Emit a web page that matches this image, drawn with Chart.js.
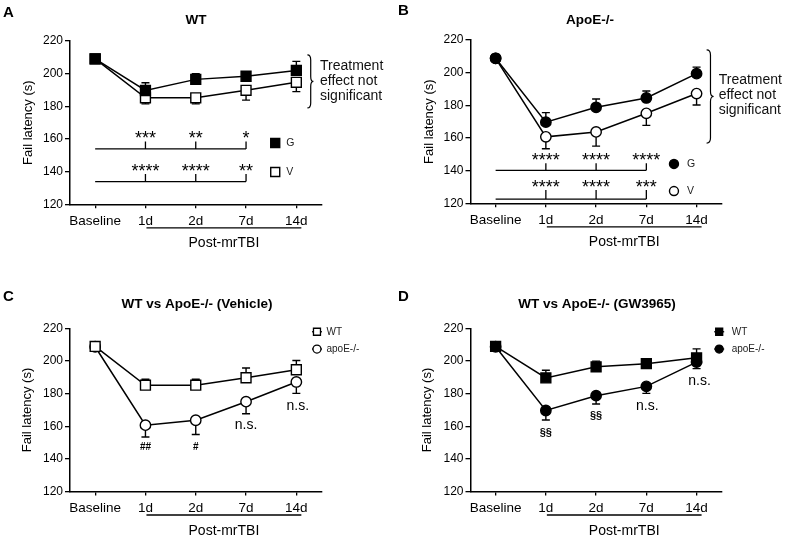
<!DOCTYPE html>
<html><head><meta charset="utf-8">
<script src="https://cdn.jsdelivr.net/npm/chart.js@4.4.1/dist/chart.umd.min.js"></script>
<style>
html,body{margin:0;padding:0;background:#fff;}
#wrap{position:relative;width:786px;height:539px;overflow:hidden;background:#fff;}
canvas{position:absolute;}
</style></head><body>
<div id="wrap">
<canvas id="cA" width="393" height="270" style="left:0;top:0"></canvas>
<canvas id="cB" width="393" height="270" style="left:393px;top:0"></canvas>
<canvas id="cC" width="393" height="269" style="left:0;top:270px"></canvas>
<canvas id="cD" width="393" height="269" style="left:393px;top:270px"></canvas>
</div>
<script>
// ---------- data ----------
const categories = ['Baseline', '1d', '2d', '7d', '14d'];
const yMin = 120, yMax = 220, yStep = 20;
// WT mice
const wtGW = [209, 189.7, 196.5, 198.4, 202];
const wtGWsem = [0, 4.7, 3.5, 2.4, 5.5];
const wtVeh = [209, 185.2, 185.2, 189.8, 194.7];
const wtVehSem = [0, 3.7, 3.7, 6, 5.7];
// ApoE-/- mice
const apoGW = [208.8, 169.7, 178.8, 184.5, 199.4];
const apoGWsem = [0, 5.8, 5.1, 4.3, 4];
const apoVeh = [208.8, 160.7, 163.7, 175.1, 187.2];
const apoVehSem = [0, 7.3, 8.7, 7.4, 7];
// significance labels (1d, 2d, 7d vs baseline)
const starsA_G = ['***', '**', '*'];
const starsA_V = ['****', '****', '**'];
const starsB_G = ['****', '****', '****'];
const starsB_V = ['****', '****', '***'];
// genotype comparison labels (1d, 2d, 7d, 14d)
const marksC = ['##', '#', 'n.s.', 'n.s.'];
const marksD = ['§§', '§§', 'n.s.', 'n.s.'];
const noteLines = ['Treatment', 'effect not', 'significant'];
const yTitle = 'Fail latency (s)';
const xGroupLabel = 'Post-mrTBI';

const FONT = '"Liberation Sans", Arial, Helvetica, sans-serif';

// ---------- panel layouts ----------
const panels = [
  { id: 'cA', H: 270, left: 70, right: 321.5, top: 41, bottom: 204.3, yTitleX: 28,
    title: { text: 'WT', x: 196, y: 23.5 }, letter: { text: 'A', x: 3, y: 17 },
    series: [
      { values: wtGW, sem: wtGWsem, dir: 1, style: 'rect', fill: true },
      { values: wtVeh, sem: wtVehSem, dir: -1, style: 'rect', fill: false } ],
    brackets: [
      { y: 153.9, tickTop: 158.4, starY: 161.4, stars: starsA_G },
      { y: 133.9, tickTop: 138.6, starY: 141.2, stars: starsA_V } ],
    keys: [
      { x: 3.58, y: 157.5, text: 'G', style: 'rect', fill: true, size: 9, dx: 11 },
      { x: 3.58, y: 139.8, text: 'V', style: 'rect', fill: false, size: 9, dx: 11 } ],
    brace: { x: 4.22, y1: 211.5, y2: 179, w: 6 },
    note: { x: 4.47, ys: [202.2, 193.1, 183.9] }
  },
  { id: 'cB', H: 270, left: 77.5, right: 328.7, top: 40, bottom: 203.3, yTitleX: 36,
    title: { text: 'ApoE-/-', x: 197, y: 23.5 }, letter: { text: 'B', x: 5, y: 15 },
    series: [
      { values: apoGW, sem: apoGWsem, dir: 1, style: 'circle', fill: true },
      { values: apoVeh, sem: apoVehSem, dir: -1, style: 'circle', fill: false } ],
    brackets: [
      { y: 140.2, tickTop: 144.5, starY: 147.6, stars: starsB_G },
      { y: 122.6, tickTop: 128.1, starY: 130.9, stars: starsB_V } ],
    keys: [
      { x: 3.55, y: 144.1, text: 'G', style: 'circle', fill: true, size: 9, dx: 13 },
      { x: 3.55, y: 127.5, text: 'V', style: 'circle', fill: false, size: 9, dx: 13 } ],
    brace: { x: 4.2, y1: 213.9, y2: 156.9, w: 7 },
    note: { x: 4.44, ys: [193, 183.9, 174.7] }
  },
  { id: 'cC', H: 269, left: 70, right: 321.5, top: 58.5, bottom: 221.5, yTitleX: 27.5,
    title: { text: 'WT vs ApoE-/- (Vehicle)', x: 197, y: 38.3 }, letter: { text: 'C', x: 3, y: 31 },
    series: [
      { values: wtVeh, sem: wtVehSem, dir: 1, style: 'rect', fill: false, name: 'WT' },
      { values: apoVeh, sem: apoVehSem, dir: -1, style: 'circle', fill: false, name: 'apoE-/-' } ],
    marks: [
      { x: 1, y: 145.5, font: 'bold 10px' }, { x: 2, y: 145.5, font: 'bold 10px' },
      { x: 3, y: 158.2, font: '14px' }, { x: 4.03, y: 170, font: '14px' } ],
    markText: marksC,
    legend: { x: 4.41, ys: [218, 207.4], dx: 9.5 }
  },
  { id: 'cD', H: 269, left: 77.5, right: 328.7, top: 58.5, bottom: 221.5, yTitleX: 34,
    title: { text: 'WT vs ApoE-/- (GW3965)', x: 204, y: 38.3 }, letter: { text: 'D', x: 5, y: 31 },
    series: [
      { values: wtGW, sem: wtGWsem, dir: 1, style: 'rect', fill: true, name: 'WT' },
      { values: apoGW, sem: apoGWsem, dir: -1, style: 'circle', fill: true, name: 'apoE-/-' } ],
    marks: [
      { x: 1, y: 154, font: 'bold 11px' }, { x: 2, y: 164.2, font: 'bold 11px' },
      { x: 3.02, y: 170, font: '14px' }, { x: 4.06, y: 185.3, font: '14px' } ],
    markText: marksD,
    legend: { x: 4.45, ys: [218, 207.4], dx: 12.5 }
  }
];

function drawMarker(ctx, style, fill, x, y, size, lw) {
  ctx.beginPath();
  if (style === 'rect') ctx.rect(x - size / 2, y - size / 2, size, size);
  else ctx.arc(x, y, size / 2, 0, Math.PI * 2);
  ctx.fillStyle = fill ? '#000' : '#fff';
  ctx.fill();
  ctx.lineWidth = lw || 1.4; ctx.strokeStyle = '#000'; ctx.stroke();
}

function panelPlugin(p) {
  return {
    id: 'panel' + p.id,
    beforeDatasetsDraw(chart) {
      const ctx = chart.ctx, xs = chart.scales.x, ys = chart.scales.y;
      ctx.save(); ctx.strokeStyle = '#000'; ctx.lineWidth = 1.4;
      p.series.forEach(s => {
        s.values.forEach((v, i) => {
          const e = s.sem[i]; if (!e) return;
          const x = xs.getPixelForValue(i), y0 = ys.getPixelForValue(v), y1 = ys.getPixelForValue(v + s.dir * e);
          ctx.beginPath(); ctx.moveTo(x, y0); ctx.lineTo(x, y1);
          ctx.moveTo(x - 4, y1); ctx.lineTo(x + 4, y1); ctx.stroke();
        });
      });
      ctx.restore();
    },
    afterDraw(chart) {
      const ctx = chart.ctx, xs = chart.scales.x, ys = chart.scales.y, ca = chart.chartArea;
      const X = v => xs.getPixelForValue(v), Y = v => ys.getPixelForValue(v);
      ctx.save();
      ctx.fillStyle = '#000'; ctx.strokeStyle = '#000';
      // title & letter
      ctx.textBaseline = 'alphabetic';
      ctx.font = 'bold 13.5px ' + FONT; ctx.textAlign = 'center';
      ctx.fillText(p.title.text, p.title.x, p.title.y);
      ctx.font = 'bold 15px ' + FONT; ctx.textAlign = 'left';
      ctx.fillText(p.letter.text, p.letter.x, p.letter.y);
      // Post-mrTBI group line
      const gy = ca.bottom + 23.5;
      ctx.lineWidth = 1.3;
      ctx.beginPath(); ctx.moveTo(X(1) + 1, gy); ctx.lineTo(X(4) + 5, gy); ctx.stroke();
      ctx.font = '14px ' + FONT; ctx.textAlign = 'center';
      ctx.fillText(xGroupLabel, (X(1) + X(4) + 6) / 2, ca.bottom + 43);
      // brackets with stars
      (p.brackets || []).forEach(b => {
        ctx.lineWidth = 1.3;
        ctx.beginPath(); ctx.moveTo(X(0), Y(b.y)); ctx.lineTo(X(3), Y(b.y));
        [1, 2, 3].forEach(i => { ctx.moveTo(X(i), Y(b.y)); ctx.lineTo(X(i), Y(b.tickTop)); });
        ctx.stroke();
        ctx.font = '18px ' + FONT; ctx.textAlign = 'center';
        b.stars.forEach((s, k) => ctx.fillText(s, X(k + 1), Y(b.starY) + 7.8));
      });
      // key markers G / V
      (p.keys || []).forEach(k => {
        drawMarker(ctx, k.style, k.fill, X(k.x), Y(k.y), k.size);
        ctx.fillStyle = '#222'; ctx.font = '10.5px ' + FONT; ctx.textAlign = 'left'; ctx.textBaseline = 'middle';
        ctx.fillText(k.text, X(k.x) + k.dx, Y(k.y) + 0.5);
        ctx.fillStyle = '#000'; ctx.textBaseline = 'alphabetic';
      });
      // brace + note
      if (p.brace) {
        const b = p.brace, x = X(b.x), y1 = Y(b.y1), y2 = Y(b.y2), w = b.w, ym = (y1 + y2) / 2, r = 5;
        ctx.lineWidth = 1.2;
        ctx.beginPath();
        ctx.moveTo(x, y1);
        ctx.quadraticCurveTo(x + w * 0.55, y1, x + w * 0.55, y1 + r);
        ctx.lineTo(x + w * 0.55, ym - r);
        ctx.quadraticCurveTo(x + w * 0.55, ym, x + w, ym);
        ctx.quadraticCurveTo(x + w * 0.55, ym, x + w * 0.55, ym + r);
        ctx.lineTo(x + w * 0.55, y2 - r);
        ctx.quadraticCurveTo(x + w * 0.55, y2, x, y2);
        ctx.stroke();
      }
      if (p.note) {
        ctx.font = '14px ' + FONT; ctx.textAlign = 'left'; ctx.fillStyle = '#111';
        noteLines.forEach((t, i) => ctx.fillText(t, X(p.note.x), Y(p.note.ys[i])));
        ctx.fillStyle = '#000';
      }
      // comparison marks
      (p.marks || []).forEach((m, i) => {
        ctx.font = m.font + ' ' + FONT; ctx.textAlign = 'center';
        ctx.fillText(p.markText[i], X(m.x), Y(m.y));
      });
      // legend (C, D)
      if (p.legend) {
        const L = p.legend;
        p.series.forEach((s, i) => {
          const x = X(L.x), y = Y(L.ys[i]);
          ctx.lineWidth = 1.3;
          ctx.beginPath(); ctx.moveTo(x - 5, y); ctx.lineTo(x + 5, y); ctx.stroke();
          drawMarker(ctx, s.style, s.fill, x, y, s.style === 'rect' ? 7 : 8, 1.3);
          ctx.fillStyle = '#222'; ctx.font = '10px ' + FONT; ctx.textAlign = 'left'; ctx.textBaseline = 'middle';
          ctx.fillText(s.name, x + L.dx, y + 0.5);
          ctx.fillStyle = '#000'; ctx.textBaseline = 'alphabetic';
        });
      }
      ctx.restore();
    }
  };
}

Chart.defaults.font.family = FONT;
Chart.defaults.color = '#000';

panels.forEach(p => {
  const datasets = p.series.map(s => ({
    data: s.values.map((v, i) => ({ x: i, y: v })),
    borderColor: '#000', borderWidth: 1.5, tension: 0, clip: false,
    pointStyle: s.style, pointRadius: s.style === 'rect' ? 7 : 5.2,
    pointBackgroundColor: s.fill ? '#000' : '#fff', pointBorderColor: '#000', pointBorderWidth: 1.4,
    pointHoverRadius: 0
  }));
  new Chart(document.getElementById(p.id), {
    type: 'line',
    data: { datasets },
    options: {
      animation: false, responsive: false, devicePixelRatio: 1, events: [],
      layout: { padding: { left: 0, top: p.top, right: 393 - p.right, bottom: p.H - p.bottom - 30 } },
      plugins: { legend: { display: false }, tooltip: { enabled: false }, title: { display: false } },
      scales: {
        x: {
          type: 'linear', min: -0.5, max: 4.5,
          afterBuildTicks: s => { s.ticks = categories.map((c, i) => ({ value: i })); },
          afterFit: s => { s.height = 30; },
          ticks: { callback: v => categories[v], font: { size: 13.5 }, color: '#000', padding: 5, autoSkip: false, maxRotation: 0 },
          grid: { drawOnChartArea: false, drawTicks: true, tickLength: 4, color: '#000', lineWidth: 1.3 },
          border: { color: '#000', width: 1.5 }
        },
        y: {
          min: yMin, max: yMax,
          afterFit: s => { s.width = p.left; },
          ticks: { stepSize: yStep, font: { size: 12 }, color: '#000', padding: 2 },
          grid: { drawOnChartArea: false, drawTicks: true, tickLength: 5, color: '#000', lineWidth: 1.3 },
          border: { color: '#000', width: 1.5 },
          title: { display: true, text: yTitle, font: { size: 13 }, color: '#000', padding: { top: p.yTitleX - 7.8, bottom: 0 } }
        }
      }
    },
    plugins: [panelPlugin(p)]
  });
});
</script>
</body></html>
